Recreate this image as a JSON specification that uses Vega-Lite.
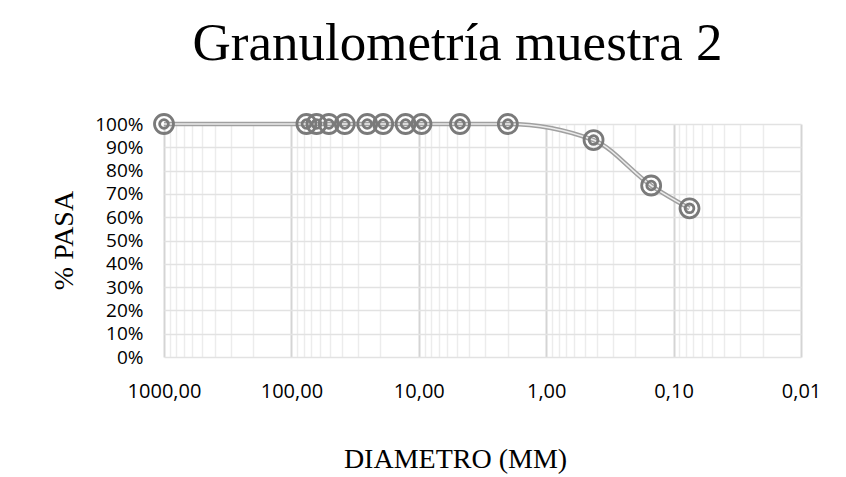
{
  "$schema": "https://vega.github.io/schema/vega-lite/v6.json",
  "width": 637,
  "height": 233,
  "autosize": {"type": "none"},
  "padding": {"left": 164, "top": 124, "right": 45, "bottom": 120},
  "background": "white",
  "title": {
    "text": "Granulometría muestra 2",
    "font": "Liberation Serif",
    "fontSize": 53,
    "fontWeight": "normal",
    "color": "#000000",
    "anchor": "middle",
    "frame": "group",
    "baseline": "alphabetic",
    "dx": -25,
    "offset": -4
  },
  "config": {
    "view": {"stroke": null},
    "axis": {"domain": false, "ticks": false}
  },
  "data": {
    "values": [
      {"diametro": 1000, "pasa": 1.0},
      {"diametro": 76.2, "pasa": 1.0},
      {"diametro": 63.5, "pasa": 1.0},
      {"diametro": 50.8, "pasa": 1.0},
      {"diametro": 38.1, "pasa": 1.0},
      {"diametro": 25.4, "pasa": 1.0},
      {"diametro": 19.05, "pasa": 1.0},
      {"diametro": 12.7, "pasa": 1.0},
      {"diametro": 9.525, "pasa": 1.0},
      {"diametro": 4.75, "pasa": 1.0},
      {"diametro": 2.0, "pasa": 1.0},
      {"diametro": 0.425, "pasa": 0.931},
      {"diametro": 0.15, "pasa": 0.736},
      {"diametro": 0.075, "pasa": 0.638}
    ]
  },
  "encoding": {
    "x": {
      "field": "diametro",
      "type": "quantitative",
      "sort": null,
      "scale": {"type": "log", "domain": [0.01, 1000], "reverse": true, "nice": false},
      "axis": {
        "values": [0.01, 0.02, 0.03, 0.04, 0.05, 0.06, 0.07, 0.08, 0.09,
                   0.1, 0.2, 0.3, 0.4, 0.5, 0.6, 0.7, 0.8, 0.9,
                   1, 2, 3, 4, 5, 6, 7, 8, 9,
                   10, 20, 30, 40, 50, 60, 70, 80, 90,
                   100, 200, 300, 400, 500, 600, 700, 800, 900, 1000],
        "labelExpr": "abs(log(datum.value)/LN10 - round(log(datum.value)/LN10)) < 0.001 ? replace(format(datum.value, '.2f'), '.', ',') : ''",
        "labelFont": "Open Sans",
        "labelFontSize": 20,
        "labelColor": "#000000",
        "labelBaseline": "alphabetic",
        "labelPadding": 40,
        "labelOverlap": false,
        "labelFlush": false,
        "grid": true,
        "gridColor": {
          "condition": {"test": "abs(log(datum.value)/LN10 - round(log(datum.value)/LN10)) < 0.001", "value": "#d4d4d4"},
          "value": "#ececec"
        },
        "gridWidth": {
          "condition": {"test": "abs(log(datum.value)/LN10 - round(log(datum.value)/LN10)) < 0.001", "value": 2},
          "value": 1.5
        },
        "title": "DIAMETRO (MM)",
        "titleFont": "Liberation Serif",
        "titleFontSize": 28,
        "titleFontWeight": "normal",
        "titleColor": "#000000",
        "titleAlign": "center",
        "titleBaseline": "alphabetic",
        "titleX": 291,
        "titleY": 110
      }
    },
    "y": {
      "field": "pasa",
      "type": "quantitative",
      "scale": {"domain": [0, 1], "nice": false, "zero": true},
      "axis": {
        "values": [0, 0.1, 0.2, 0.3, 0.4, 0.5, 0.6, 0.7, 0.8, 0.9, 1],
        "format": ".0%",
        "labelFont": "Open Sans",
        "labelFontSize": 19,
        "labelColor": "#000000",
        "labelPadding": 21,
        "grid": true,
        "gridColor": "#e2e2e2",
        "gridWidth": 1.5,
        "title": "% PASA",
        "titleFont": "Liberation Serif",
        "titleFontSize": 28,
        "titleFontWeight": "normal",
        "titleColor": "#000000",
        "titleAngle": -90,
        "titleAlign": "center",
        "titleBaseline": "alphabetic",
        "titleX": -92,
        "titleY": 116
      }
    }
  },
  "layer": [
    {
      "mark": {"type": "line", "interpolate": "monotone", "color": "#a0a0a0", "strokeWidth": 4.5}
    },
    {
      "mark": {"type": "line", "interpolate": "monotone", "color": "#ececec", "strokeWidth": 1.5}
    },
    {
      "mark": {"type": "point", "shape": "circle", "filled": false, "stroke": "#7a7a7a", "strokeWidth": 2.8, "size": 361, "opacity": 1}
    },
    {
      "mark": {"type": "point", "shape": "circle", "filled": false, "stroke": "#7a7a7a", "strokeWidth": 2.8, "size": 76, "opacity": 1}
    }
  ]
}
